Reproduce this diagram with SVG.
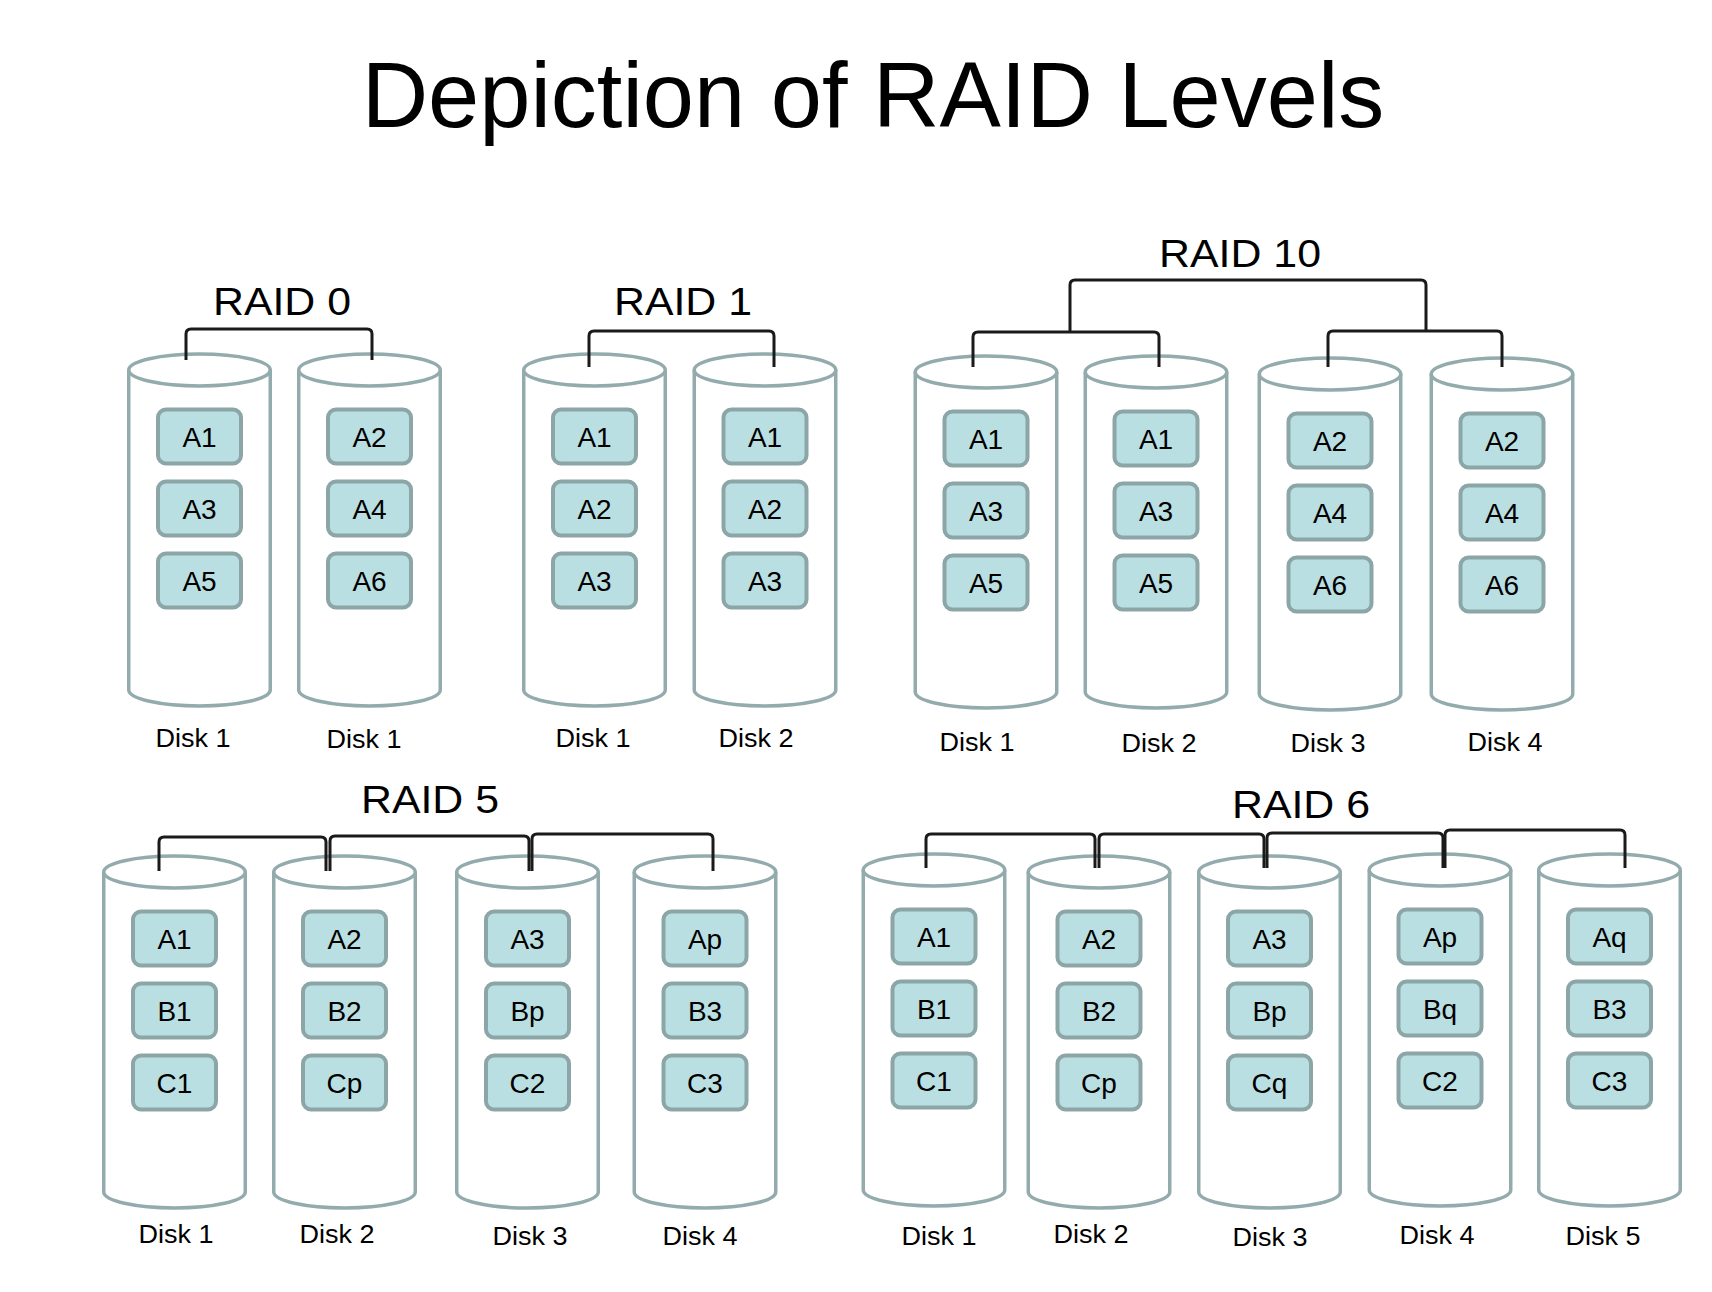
<svg xmlns="http://www.w3.org/2000/svg" xmlns:xlink="http://www.w3.org/1999/xlink" width="1712" height="1292" viewBox="0 0 1712 1292">
<style>
.cyl{fill:#fff;stroke:#93ABAD;stroke-width:3.5}
.blk{fill:#BADFE2;stroke:#8CA5A6;stroke-width:4}
.bt{font-family:"Liberation Sans",Arial,sans-serif;font-size:28px;text-anchor:middle;fill:#000}
.dl{font-family:"Liberation Sans",Arial,sans-serif;font-size:25px;text-anchor:middle;fill:#000}
.rl{font-family:"Liberation Sans",Arial,sans-serif;font-size:38px;text-anchor:middle;fill:#000}
.title{font-family:"Liberation Sans",Arial,sans-serif;font-size:92px;text-anchor:middle;fill:#000}
.br{fill:none;stroke:#1a1a1a;stroke-width:3;stroke-linejoin:round}
</style>
<defs>
<g id="cyl">
<path class="cyl" d="M-70.75,0 V320 A70.75,16 0 0 0 70.75,320 V0"/>
<ellipse class="cyl" cx="0" cy="0" rx="70.75" ry="16"/>
</g>
</defs>
<rect width="1712" height="1292" fill="#fff"/>
<text class="title" x="873" y="127">Depiction of RAID Levels</text>

<!-- RAID 0 -->
<g id="raid0">
<text class="rl" x="282" y="315" textLength="138" lengthAdjust="spacingAndGlyphs">RAID 0</text>
<g id="r0d1"><use href="#cyl" x="199.5" y="370"/>
<rect class="blk" x="158" y="409.5" width="83" height="54" rx="8"/><text class="bt" x="199.5" y="446.5">A1</text>
<rect class="blk" x="158" y="481.5" width="83" height="54" rx="8"/><text class="bt" x="199.5" y="518.5">A3</text>
<rect class="blk" x="158" y="553.5" width="83" height="54" rx="8"/><text class="bt" x="199.5" y="590.5">A5</text>
<text class="dl" x="193" y="747" textLength="75" lengthAdjust="spacingAndGlyphs">Disk 1</text></g>
<g id="r0d2"><use href="#cyl" x="369.5" y="370"/>
<rect class="blk" x="328" y="409.5" width="83" height="54" rx="8"/><text class="bt" x="369.5" y="446.5">A2</text>
<rect class="blk" x="328" y="481.5" width="83" height="54" rx="8"/><text class="bt" x="369.5" y="518.5">A4</text>
<rect class="blk" x="328" y="553.5" width="83" height="54" rx="8"/><text class="bt" x="369.5" y="590.5">A6</text>
<text class="dl" x="364" y="748" textLength="75" lengthAdjust="spacingAndGlyphs">Disk 1</text></g>
</g>

<!-- RAID 1 -->
<g id="raid1">
<text class="rl" x="683" y="315" textLength="138" lengthAdjust="spacingAndGlyphs">RAID 1</text>
<g id="r1d1"><use href="#cyl" x="594.5" y="370"/>
<rect class="blk" x="553" y="409.5" width="83" height="54" rx="8"/><text class="bt" x="594.5" y="446.5">A1</text>
<rect class="blk" x="553" y="481.5" width="83" height="54" rx="8"/><text class="bt" x="594.5" y="518.5">A2</text>
<rect class="blk" x="553" y="553.5" width="83" height="54" rx="8"/><text class="bt" x="594.5" y="590.5">A3</text>
<text class="dl" x="593" y="747" textLength="75" lengthAdjust="spacingAndGlyphs">Disk 1</text></g>
<g id="r1d2"><use href="#cyl" x="765" y="370"/>
<rect class="blk" x="723.5" y="409.5" width="83" height="54" rx="8"/><text class="bt" x="765" y="446.5">A1</text>
<rect class="blk" x="723.5" y="481.5" width="83" height="54" rx="8"/><text class="bt" x="765" y="518.5">A2</text>
<rect class="blk" x="723.5" y="553.5" width="83" height="54" rx="8"/><text class="bt" x="765" y="590.5">A3</text>
<text class="dl" x="756" y="747" textLength="75" lengthAdjust="spacingAndGlyphs">Disk 2</text></g>
</g>

<!-- RAID 10 -->
<g id="raid10">
<text class="rl" x="1240" y="267" textLength="162" lengthAdjust="spacingAndGlyphs">RAID 10</text>
<g id="r10d1"><use href="#cyl" x="986" y="372"/>
<rect class="blk" x="944.5" y="411.5" width="83" height="54" rx="8"/><text class="bt" x="986" y="448.5">A1</text>
<rect class="blk" x="944.5" y="483.5" width="83" height="54" rx="8"/><text class="bt" x="986" y="520.5">A3</text>
<rect class="blk" x="944.5" y="555.5" width="83" height="54" rx="8"/><text class="bt" x="986" y="592.5">A5</text>
<text class="dl" x="977" y="751" textLength="75" lengthAdjust="spacingAndGlyphs">Disk 1</text></g>
<g id="r10d2"><use href="#cyl" x="1156" y="372"/>
<rect class="blk" x="1114.5" y="411.5" width="83" height="54" rx="8"/><text class="bt" x="1156" y="448.5">A1</text>
<rect class="blk" x="1114.5" y="483.5" width="83" height="54" rx="8"/><text class="bt" x="1156" y="520.5">A3</text>
<rect class="blk" x="1114.5" y="555.5" width="83" height="54" rx="8"/><text class="bt" x="1156" y="592.5">A5</text>
<text class="dl" x="1159" y="752" textLength="75" lengthAdjust="spacingAndGlyphs">Disk 2</text></g>
<g id="r10d3"><use href="#cyl" x="1330" y="374"/>
<rect class="blk" x="1288.5" y="413.5" width="83" height="54" rx="8"/><text class="bt" x="1330" y="450.5">A2</text>
<rect class="blk" x="1288.5" y="485.5" width="83" height="54" rx="8"/><text class="bt" x="1330" y="522.5">A4</text>
<rect class="blk" x="1288.5" y="557.5" width="83" height="54" rx="8"/><text class="bt" x="1330" y="594.5">A6</text>
<text class="dl" x="1328" y="752" textLength="75" lengthAdjust="spacingAndGlyphs">Disk 3</text></g>
<g id="r10d4"><use href="#cyl" x="1502" y="374"/>
<rect class="blk" x="1460.5" y="413.5" width="83" height="54" rx="8"/><text class="bt" x="1502" y="450.5">A2</text>
<rect class="blk" x="1460.5" y="485.5" width="83" height="54" rx="8"/><text class="bt" x="1502" y="522.5">A4</text>
<rect class="blk" x="1460.5" y="557.5" width="83" height="54" rx="8"/><text class="bt" x="1502" y="594.5">A6</text>
<text class="dl" x="1505" y="751" textLength="75" lengthAdjust="spacingAndGlyphs">Disk 4</text></g>
</g>

<!-- RAID 5 -->
<g id="raid5">
<text class="rl" x="430" y="813" textLength="138" lengthAdjust="spacingAndGlyphs">RAID 5</text>
<g id="r5d1"><use href="#cyl" x="174.5" y="872"/>
<rect class="blk" x="133" y="911.5" width="83" height="54" rx="8"/><text class="bt" x="174.5" y="948.5">A1</text>
<rect class="blk" x="133" y="983.5" width="83" height="54" rx="8"/><text class="bt" x="174.5" y="1020.5">B1</text>
<rect class="blk" x="133" y="1055.5" width="83" height="54" rx="8"/><text class="bt" x="174.5" y="1092.5">C1</text>
<text class="dl" x="176" y="1243" textLength="75" lengthAdjust="spacingAndGlyphs">Disk 1</text></g>
<g id="r5d2"><use href="#cyl" x="344.5" y="872"/>
<rect class="blk" x="303" y="911.5" width="83" height="54" rx="8"/><text class="bt" x="344.5" y="948.5">A2</text>
<rect class="blk" x="303" y="983.5" width="83" height="54" rx="8"/><text class="bt" x="344.5" y="1020.5">B2</text>
<rect class="blk" x="303" y="1055.5" width="83" height="54" rx="8"/><text class="bt" x="344.5" y="1092.5">Cp</text>
<text class="dl" x="337" y="1243" textLength="75" lengthAdjust="spacingAndGlyphs">Disk 2</text></g>
<g id="r5d3"><use href="#cyl" x="527.5" y="872"/>
<rect class="blk" x="486" y="911.5" width="83" height="54" rx="8"/><text class="bt" x="527.5" y="948.5">A3</text>
<rect class="blk" x="486" y="983.5" width="83" height="54" rx="8"/><text class="bt" x="527.5" y="1020.5">Bp</text>
<rect class="blk" x="486" y="1055.5" width="83" height="54" rx="8"/><text class="bt" x="527.5" y="1092.5">C2</text>
<text class="dl" x="530" y="1245" textLength="75" lengthAdjust="spacingAndGlyphs">Disk 3</text></g>
<g id="r5d4"><use href="#cyl" x="705" y="872"/>
<rect class="blk" x="663.5" y="911.5" width="83" height="54" rx="8"/><text class="bt" x="705" y="948.5">Ap</text>
<rect class="blk" x="663.5" y="983.5" width="83" height="54" rx="8"/><text class="bt" x="705" y="1020.5">B3</text>
<rect class="blk" x="663.5" y="1055.5" width="83" height="54" rx="8"/><text class="bt" x="705" y="1092.5">C3</text>
<text class="dl" x="700" y="1245" textLength="75" lengthAdjust="spacingAndGlyphs">Disk 4</text></g>
</g>

<!-- RAID 6 -->
<g id="raid6">
<text class="rl" x="1301" y="818" textLength="138" lengthAdjust="spacingAndGlyphs">RAID 6</text>
<g id="r6d1"><use href="#cyl" x="934" y="870"/>
<rect class="blk" x="892.5" y="909.5" width="83" height="54" rx="8"/><text class="bt" x="934" y="946.5">A1</text>
<rect class="blk" x="892.5" y="981.5" width="83" height="54" rx="8"/><text class="bt" x="934" y="1018.5">B1</text>
<rect class="blk" x="892.5" y="1053.5" width="83" height="54" rx="8"/><text class="bt" x="934" y="1090.5">C1</text>
<text class="dl" x="939" y="1245" textLength="75" lengthAdjust="spacingAndGlyphs">Disk 1</text></g>
<g id="r6d2"><use href="#cyl" x="1099" y="872"/>
<rect class="blk" x="1057.5" y="911.5" width="83" height="54" rx="8"/><text class="bt" x="1099" y="948.5">A2</text>
<rect class="blk" x="1057.5" y="983.5" width="83" height="54" rx="8"/><text class="bt" x="1099" y="1020.5">B2</text>
<rect class="blk" x="1057.5" y="1055.5" width="83" height="54" rx="8"/><text class="bt" x="1099" y="1092.5">Cp</text>
<text class="dl" x="1091" y="1243" textLength="75" lengthAdjust="spacingAndGlyphs">Disk 2</text></g>
<g id="r6d3"><use href="#cyl" x="1269.5" y="872"/>
<rect class="blk" x="1228" y="911.5" width="83" height="54" rx="8"/><text class="bt" x="1269.5" y="948.5">A3</text>
<rect class="blk" x="1228" y="983.5" width="83" height="54" rx="8"/><text class="bt" x="1269.5" y="1020.5">Bp</text>
<rect class="blk" x="1228" y="1055.5" width="83" height="54" rx="8"/><text class="bt" x="1269.5" y="1092.5">Cq</text>
<text class="dl" x="1270" y="1246" textLength="75" lengthAdjust="spacingAndGlyphs">Disk 3</text></g>
<g id="r6d4"><use href="#cyl" x="1440" y="870"/>
<rect class="blk" x="1398.5" y="909.5" width="83" height="54" rx="8"/><text class="bt" x="1440" y="946.5">Ap</text>
<rect class="blk" x="1398.5" y="981.5" width="83" height="54" rx="8"/><text class="bt" x="1440" y="1018.5">Bq</text>
<rect class="blk" x="1398.5" y="1053.5" width="83" height="54" rx="8"/><text class="bt" x="1440" y="1090.5">C2</text>
<text class="dl" x="1437" y="1244" textLength="75" lengthAdjust="spacingAndGlyphs">Disk 4</text></g>
<g id="r6d5"><use href="#cyl" x="1609.5" y="870"/>
<rect class="blk" x="1568" y="909.5" width="83" height="54" rx="8"/><text class="bt" x="1609.5" y="946.5">Aq</text>
<rect class="blk" x="1568" y="981.5" width="83" height="54" rx="8"/><text class="bt" x="1609.5" y="1018.5">B3</text>
<rect class="blk" x="1568" y="1053.5" width="83" height="54" rx="8"/><text class="bt" x="1609.5" y="1090.5">C3</text>
<text class="dl" x="1603" y="1245" textLength="75" lengthAdjust="spacingAndGlyphs">Disk 5</text></g>
</g>

<!-- connectors -->
<g id="connectors" class="br">
<path d="M186,360 V334 Q186,329 191,329 H367 Q372,329 372,334 V360"/>
<path d="M589,367 V336 Q589,331 594,331 H769 Q774,331 774,336 V367"/>
<path d="M1070,332 V285 Q1070,280 1075,280 H1421 Q1426,280 1426,285 V331"/>
<path d="M973,367 V337 Q973,332 978,332 H1154 Q1159,332 1159,337 V367"/>
<path d="M1328,367 V336 Q1328,331 1333,331 H1497 Q1502,331 1502,336 V367"/>
<path d="M159,871 V842 Q159,837 164,837 H321 Q326,837 326,842 V871"/>
<path d="M330,871 V841 Q330,836 335,836 H524 Q529,836 529,841 V871"/>
<path d="M532,871 V839 Q532,834 537,834 H708 Q713,834 713,839 V871"/>
<path d="M926,868 V839 Q926,834 931,834 H1090 Q1095,834 1095,839 V868"/>
<path d="M1099,868 V839 Q1099,834 1104,834 H1259 Q1264,834 1264,839 V868"/>
<path d="M1267,868 V838 Q1267,833 1272,833 H1438 Q1443,833 1443,838 V868"/>
<path d="M1445,868 V835 Q1445,830 1450,830 H1620 Q1625,830 1625,835 V868"/>
</g>
</svg>
